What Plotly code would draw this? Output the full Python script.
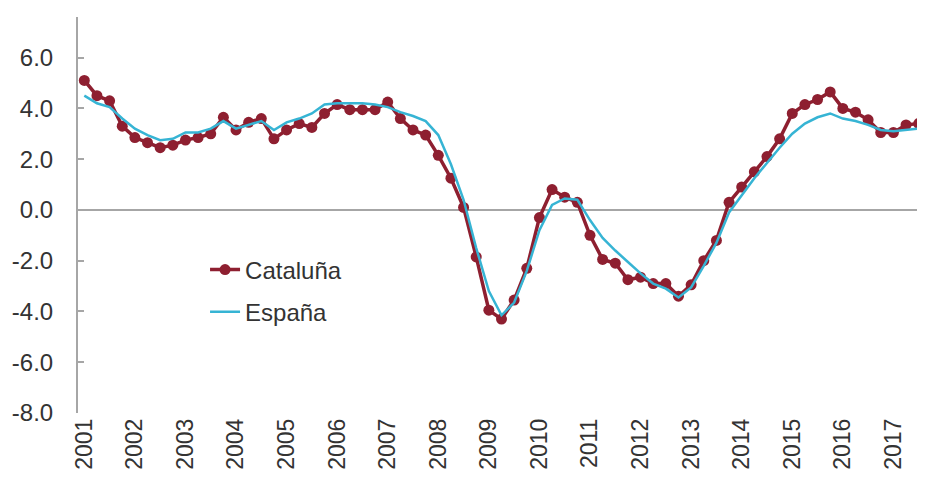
import plotly.graph_objects as go

years = [str(y) for y in range(2001, 2018)]
quarters = list(range(67))  # 2001Q1 .. 2017Q3

cataluna = [5.1, 4.5, 4.3, 3.3, 2.85, 2.65, 2.45, 2.55, 2.75, 2.85, 3.0, 3.65,
            3.15, 3.45, 3.6, 2.8, 3.15, 3.4, 3.25, 3.8, 4.15, 3.95, 3.95, 3.95,
            4.25, 3.6, 3.15, 2.95, 2.15, 1.25, 0.1, -1.85, -3.95, -4.3, -3.55, -2.3,
            -0.3, 0.8, 0.5, 0.3, -1.0, -1.95, -2.1, -2.75, -2.65, -2.9, -2.9, -3.4,
            -2.95, -2.0, -1.2, 0.3, 0.9, 1.5, 2.1, 2.8, 3.8, 4.15, 4.35, 4.65,
            4.0, 3.85, 3.55, 3.05, 3.05, 3.35, 3.4]

espana = [4.5, 4.2, 4.05, 3.6, 3.2, 2.95, 2.75, 2.8, 3.05, 3.05, 3.2, 3.5,
          3.2, 3.35, 3.5, 3.15, 3.45, 3.6, 3.8, 4.15, 4.2, 4.2, 4.2, 4.15,
          4.05, 3.85, 3.7, 3.5, 2.95, 1.8, 0.4, -1.5, -3.2, -4.15, -3.65, -2.4,
          -0.8, 0.2, 0.45, 0.4, -0.4, -1.1, -1.6, -2.05, -2.5, -2.9, -3.1, -3.45,
          -3.05, -2.2, -1.3, -0.1, 0.6, 1.25, 1.85, 2.45, 3.0, 3.4, 3.65, 3.8,
          3.6, 3.5, 3.35, 3.15, 3.1, 3.15, 3.2]

y_ticks = [-8, -6, -4, -2, 0, 2, 4, 6]
y_ticktext = ["-8.0", "-6.0", "-4.0", "-2.0", "0.0", "2.0", "4.0", "6.0"]

red = "#8e1f30"
cyan = "#36b4d4"
grey = "#a6a6a6"
font = "Liberation Sans, Arial, sans-serif"

fig = go.Figure()
fig.add_trace(go.Scatter(
    x=quarters, y=cataluna, name="Cataluña", mode="lines+markers",
    line=dict(color=red, width=3.5),
    marker=dict(color=red, size=11),
    legendgroup="a",
))
fig.add_trace(go.Scatter(
    x=quarters, y=espana, name="España", mode="lines",
    line=dict(color=cyan, width=2.5),
    legendgroup="b",
))

# page body has an 8px margin, so the figure is offset by (8, 8)
fig.update_layout(
    width=917, height=478,
    margin=dict(l=70, r=0, t=9, b=73),
    paper_bgcolor="white", plot_bgcolor="white",
    font=dict(family=font, size=23, color="#333333"),
    showlegend=True,
    legend=dict(x=0.15, y=0.418, xanchor="left", yanchor="top",
                font=dict(size=24, color="#333333"),
                bgcolor="rgba(0,0,0,0)", tracegroupgap=8,
                traceorder="grouped"),
    xaxis=dict(
        range=[-0.5, 66.5],
        tickvals=[4 * k for k in range(len(years))],
        ticktext=years,
        tickangle=-90,
        showline=False, ticks="", showgrid=False, zeroline=False,
        tickfont=dict(size=23),
        automargin=False,
    ),
    yaxis=dict(
        range=[-8, 7.6],
        tickvals=y_ticks,
        ticktext=y_ticktext,
        showline=True, linecolor=grey, linewidth=2,
        ticks="inside", ticklen=6, tickcolor=grey, tickwidth=1.5,
        showgrid=False,
        zeroline=True, zerolinecolor=grey, zerolinewidth=2,
        ticklabelstandoff=18,
        tickfont=dict(size=24),
        automargin=False,
    ),
)

fig.write_html("out.html")
